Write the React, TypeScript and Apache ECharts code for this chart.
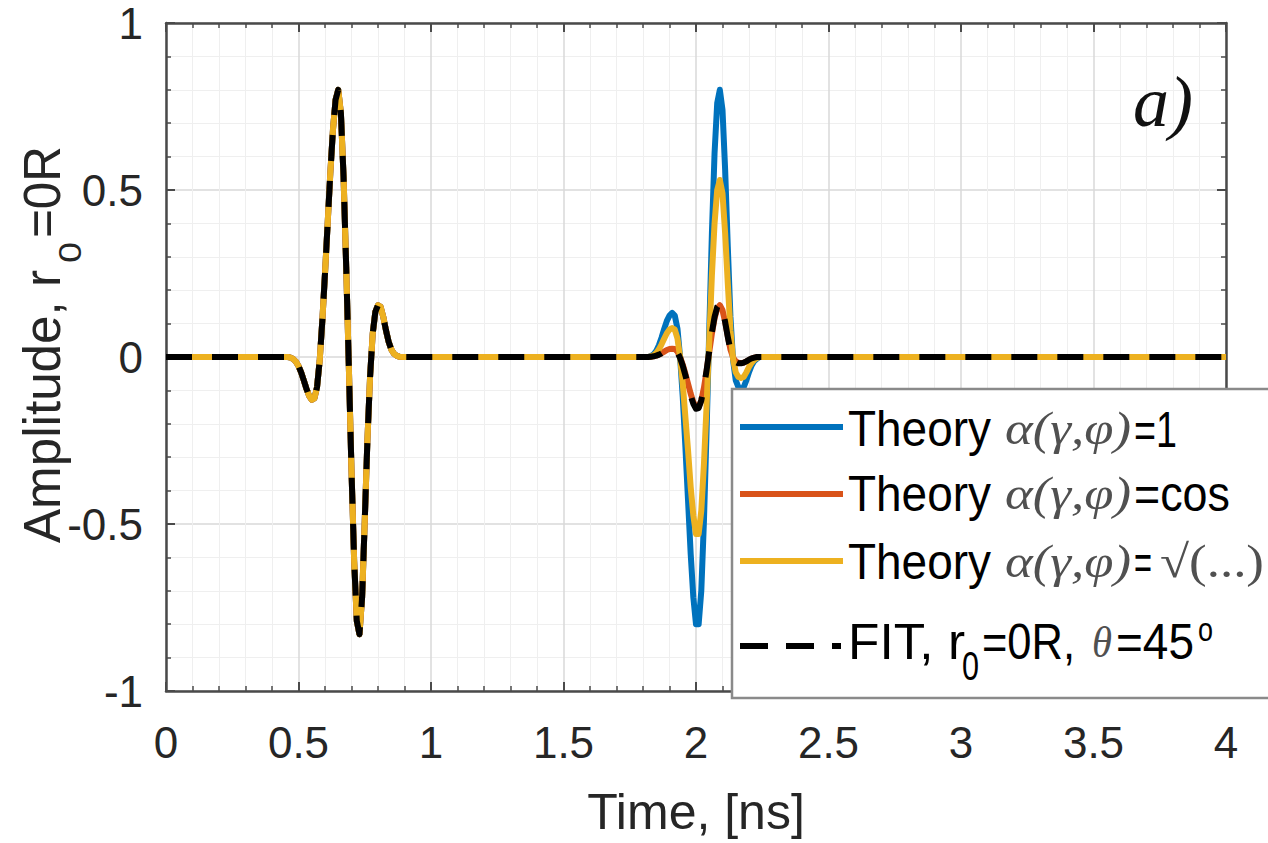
import React, { useEffect, useRef } from 'react';
import * as echarts from 'echarts';

// ---------- data ----------
const timeLead = [0.0, 0.4];
const timePulse1 = [
  0.46, 0.47, 0.48, 0.49, 0.5, 0.51, 0.52, 0.53, 0.54, 0.55, 0.56, 0.57, 0.58, 0.59, 0.6,
  0.61, 0.62, 0.63, 0.64, 0.65, 0.66, 0.67, 0.68, 0.69, 0.7, 0.71, 0.72, 0.73, 0.74, 0.75,
  0.76, 0.77, 0.78, 0.79, 0.8, 0.81, 0.82, 0.83, 0.84, 0.85, 0.86, 0.87, 0.88,
];
const timeMid = [0.9, 1.0, 1.5, 1.8];
const timePulse2 = [
  1.82, 1.83, 1.84, 1.85, 1.86, 1.87, 1.88, 1.89, 1.9, 1.91, 1.92, 1.93, 1.94, 1.95, 1.96,
  1.97, 1.98, 1.99, 2.0, 2.01, 2.02, 2.03, 2.04, 2.05, 2.06, 2.07, 2.08, 2.09, 2.1, 2.11,
  2.12, 2.13, 2.14, 2.15, 2.16, 2.17, 2.18, 2.19, 2.2, 2.21, 2.22, 2.23, 2.24,
];
const timeTail = [2.3, 3.0, 4.0];

const zerosLead = [0, 0];
const zerosMid = [0, 0, 0, 0];
const zerosTail = [0, 0, 0];

// first pulse: all four curves coincide
const pulse1 = [
  0, -0.002, -0.006, -0.014, -0.027, -0.046, -0.07, -0.095, -0.116, -0.128, -0.124, -0.09, -0.01,
  0.11, 0.25, 0.4, 0.55, 0.68, 0.77, 0.8, 0.73, 0.54, 0.27, -0.03, -0.34, -0.61, -0.79, -0.83,
  -0.72, -0.49, -0.25, -0.06, 0.07, 0.135, 0.155, 0.15, 0.12, 0.08, 0.046, 0.023, 0.01, 0.004, 0.001,
];
// second pulse, one per curve
const pulse2One = [
  0, 0.003, 0.008, 0.018, 0.035, 0.058, 0.084, 0.108, 0.124, 0.132, 0.124, 0.085, 0.0, -0.12,
  -0.27, -0.43, -0.59, -0.72, -0.8, -0.8, -0.7, -0.49, -0.22, 0.08, 0.37, 0.61, 0.76, 0.8, 0.74,
  0.56, 0.33, 0.12, -0.01, -0.07, -0.09, -0.095, -0.09, -0.07, -0.045, -0.025, -0.012, -0.005, 0,
];
const pulse2Cos = [
  0, 0.001, 0.002, 0.004, 0.007, 0.011, 0.016, 0.021, 0.024, 0.025, 0.024, 0.016, 0.0, -0.023,
  -0.05, -0.08, -0.11, -0.135, -0.15, -0.15, -0.13, -0.092, -0.042, 0.015, 0.07, 0.115, 0.145,
  0.155, 0.14, 0.105, 0.062, 0.022, -0.002, -0.013, -0.017, -0.018, -0.017, -0.013, -0.009,
  -0.005, -0.002, -0.001, 0,
];
const pulse2Sqrt = [
  0, 0.002, 0.005, 0.012, 0.023, 0.038, 0.055, 0.071, 0.082, 0.087, 0.082, 0.056, 0.0, -0.08,
  -0.18, -0.28, -0.39, -0.475, -0.53, -0.53, -0.46, -0.32, -0.145, 0.05, 0.245, 0.4, 0.5, 0.53,
  0.49, 0.37, 0.22, 0.08, -0.007, -0.046, -0.06, -0.063, -0.06, -0.046, -0.03, -0.017, -0.008,
  -0.003, 0,
];
const pulse2Fit = [
  0, 0.001, 0.002, 0.004, 0.007, 0.011, 0.016, 0.02, 0.023, 0.024, 0.022, 0.014, -0.003, -0.026,
  -0.055, -0.086, -0.116, -0.14, -0.155, -0.153, -0.13, -0.09, -0.04, 0.018, 0.074, 0.12, 0.15,
  0.16, 0.143, 0.105, 0.06, 0.02, -0.004, -0.015, -0.019, -0.019, -0.017, -0.013, -0.008, -0.004,
  -0.002, 0, 0,
];

const xTicks = [0, 0.5, 1, 1.5, 2, 2.5, 3, 3.5, 4];
const yTicks = [-1, -0.5, 0, 0.5, 1];
const seriesNames = [
  'Theory α(γ,φ)=1',
  'Theory α(γ,φ)=cos',
  'Theory α(γ,φ)=√(...)',
  'FIT, r0=0R, θ=45°',
];
const seriesColors = ['#0072BD', '#D95319', '#EDB120', '#000000'];
const xTitle = 'Time, [ns]';

// ---------- helpers ----------
const SANS = '"Liberation Sans", Arial, Helvetica, sans-serif';
const SERIF = '"Liberation Serif", "Times New Roman", "DejaVu Serif", serif';

let measureCtx: CanvasRenderingContext2D | null = null;
function textWidth(text: string, size: number, family: string, style = 'normal') {
  if (!measureCtx) measureCtx = document.createElement('canvas').getContext('2d');
  measureCtx!.font = `${style} ${size}px ${family}`;
  return measureCtx!.measureText(text).width;
}

function seg(
  text: string,
  x: number,
  y: number,
  w: number,
  size: number,
  family: string,
  fill: string,
  italic = false,
  extra: any = {}
) {
  const mw = textWidth(text, size, family, italic ? 'italic' : 'normal');
  return {
    type: 'text',
    x,
    y,
    scaleX: w / mw,
    z: 102,
    silent: true,
    ...extra,
    style: {
      text,
      x: 0,
      y: 0,
      fontSize: size,
      fontFamily: family,
      fontStyle: italic ? 'italic' : 'normal',
      fill,
      textAlign: 'left',
      textVerticalAlign: 'middle',
      align: 'left',
      verticalAlign: 'middle',
    },
  };
}

export default function App() {
  const ref = useRef<HTMLDivElement>(null);

  useEffect(() => {
    if (!ref.current) return;
    const chart = echarts.init(ref.current, undefined, { renderer: 'svg' });

    const narrowOk =
      Math.abs(
        textWidth('0.5 Time', 50, '"Liberation Sans Narrow", monospace') -
          textWidth('0.5 Time', 50, 'monospace')
      ) > 1;
    const tickFamily = narrowOk ? '"Liberation Sans Narrow", ' + SANS : SANS;
    const tickSize = narrowOk ? 52 : 44;
    const titleSize = narrowOk ? 58 : 50;

    const time = [...timeLead, ...timePulse1, ...timeMid, ...timePulse2, ...timeTail];
    const build = (p2: number[]) =>
      [...zerosLead, ...pulse1, ...zerosMid, ...p2, ...zerosTail].map((v, i) => [time[i], v]);
    const seriesData = [build(pulse2One), build(pulse2Cos), build(pulse2Sqrt), build(pulse2Fit)];

    const axisColor = '#4a4a4a';
    const xMin = xTicks[0];
    const xMax = xTicks[xTicks.length - 1];
    const xInt = xTicks[1] - xTicks[0];
    const yMin = yTicks[0];
    const yMax = yTicks[yTicks.length - 1];
    const yInt = yTicks[1] - yTicks[0];

    const baseAxis = (extra: any) => ({
      type: 'value',
      axisLine: { show: true, onZero: false, lineStyle: { color: axisColor, width: 2.5 } },
      axisTick: { show: true, inside: true, length: 9, lineStyle: { color: axisColor, width: 2 } },
      minorTick: { show: true, splitNumber: 5, length: 5, lineStyle: { color: axisColor, width: 1.5 } },
      ...extra,
    });

    const legendRows = [427, 494, 561];
    const legendTextY = [429, 494, 562, 642];

    const graphics: any[] = [
      // legend box
      {
        type: 'rect',
        z: 100,
        silent: true,
        shape: { x: 732, y: 389, width: 580, height: 309 },
        style: { fill: '#ffffff', stroke: '#8a8a8a', lineWidth: 2.5 },
      },
      ...legendRows.map((y, i) => ({
        type: 'line',
        z: 101,
        silent: true,
        shape: { x1: 740, y1: y, x2: 843, y2: y },
        style: { stroke: seriesColors[i], lineWidth: 6 },
      })),
      {
        type: 'line',
        z: 101,
        silent: true,
        shape: { x1: 740, y1: 646, x2: 841, y2: 646 },
        style: { stroke: seriesColors[3], lineWidth: 6, lineDash: [28, 18] },
      },
    ];
    // legend texts rows 1..3
    const tails = [
      [{ t: '=1', w: 43, serif: false }],
      [{ t: '=cos', w: 96, serif: false }],
      [
        { t: '=', w: 18, serif: false },
        { t: '√(...)', w: 104, serif: true },
      ],
    ];
    for (let i = 0; i < 3; i++) {
      const y = legendTextY[i];
      graphics.push(seg('Theory', 848, y, 143, 50, SANS, '#000'));
      graphics.push(seg('α(γ,φ)', 1005, y, 126, 46, SERIF, '#505050', true));
      let x = 1134;
      for (const p of tails[i]) {
        graphics.push(
          p.serif
            ? seg(p.t, x + 4, y, p.w, 46, SERIF, '#505050', false)
            : seg(p.t, x, y, p.w, 50, SANS, '#000')
        );
        x += p.w + 4;
      }
    }
    // legend row 4
    {
      const y = legendTextY[3];
      graphics.push(seg('FIT, r', 848, y, 117, 50, SANS, '#000'));
      graphics.push(seg('0', 962, y + 25, 17, 40, SANS, '#000'));
      graphics.push(seg('=0R,', 982, y, 93, 50, SANS, '#000'));
      graphics.push(seg('θ', 1092, y, 20, 44, SERIF, '#505050', true));
      graphics.push(seg('=45', 1116, y, 78, 50, SANS, '#000'));
      graphics.push(seg('o', 1198, y - 13, 15, 34, SANS, '#000'));
    }
    // y axis title (rotated)
    const rot = { rotation: Math.PI / 2 };
    graphics.push(seg('Amplitude, r', 42, 543, 273, 52, SANS, '#262626', false, rot));
    graphics.push(seg('0', 70, 263, 21, 32, SANS, '#262626', false, rot));
    graphics.push(seg('=0R', 42, 238, 92, 52, SANS, '#262626', false, rot));
    // panel label
    graphics.push(seg('a)', 1133, 102, 60, 60, SERIF, '#111', true, { scaleY: 1.2 }));

    const option: any = {
      animation: false,
      backgroundColor: '#ffffff',
      grid: { left: 166, right: 42, top: 23, bottom: 152, containLabel: false },
      xAxis: [
        baseAxis({
          position: 'bottom',
          min: xMin,
          max: xMax,
          interval: xInt,
          name: xTitle,
          nameLocation: 'middle',
          nameGap: 121,
          nameTextStyle: {
            fontSize: titleSize,
            fontFamily: tickFamily,
            color: '#262626',
            verticalAlign: 'middle',
          },
          axisLabel: {
            show: true,
            margin: 51,
            verticalAlign: 'middle',
            fontSize: tickSize,
            lineHeight: 40,
            fontFamily: tickFamily,
            color: '#262626',
          },
          splitLine: { show: true, lineStyle: { color: '#d9d9d9', width: 1.5 } },
          minorSplitLine: { show: true, lineStyle: { color: '#efefef', width: 1 } },
        }),
        baseAxis({
          position: 'top',
          min: xMin,
          max: xMax,
          interval: xInt,
          axisLabel: { show: false },
          splitLine: { show: false },
        }),
      ],
      yAxis: [
        baseAxis({
          position: 'left',
          min: yMin,
          max: yMax,
          interval: yInt,
          axisLabel: {
            show: true,
            margin: 23,
            fontSize: tickSize,
            lineHeight: 38,
            fontFamily: tickFamily,
            color: '#262626',
          },
          splitLine: { show: true, lineStyle: { color: '#d9d9d9', width: 1.5 } },
          minorSplitLine: { show: true, lineStyle: { color: '#efefef', width: 1 } },
        }),
        baseAxis({
          position: 'right',
          min: yMin,
          max: yMax,
          interval: yInt,
          axisLabel: { show: false },
          splitLine: { show: false },
        }),
      ],
      series: seriesData.map((data, i) => ({
        name: seriesNames[i],
        type: 'line',
        xAxisIndex: 0,
        yAxisIndex: 0,
        data,
        showSymbol: false,
        symbol: 'none',
        silent: true,
        clip: true,
        z: 3 + i,
        lineStyle: {
          color: seriesColors[i],
          width: 6,
          type: i === 3 ? [26, 20] : 'solid',
          cap: 'butt',
          join: 'round',
        },
        emphasis: { disabled: true },
      })),
      graphic: graphics,
    };

    chart.setOption(option);
    return () => chart.dispose();
  }, []);

  return (
    <div
      ref={ref}
      style={{ position: 'fixed', left: 0, top: 0, width: 1268, height: 843, background: '#fff' }}
    />
  );
}
